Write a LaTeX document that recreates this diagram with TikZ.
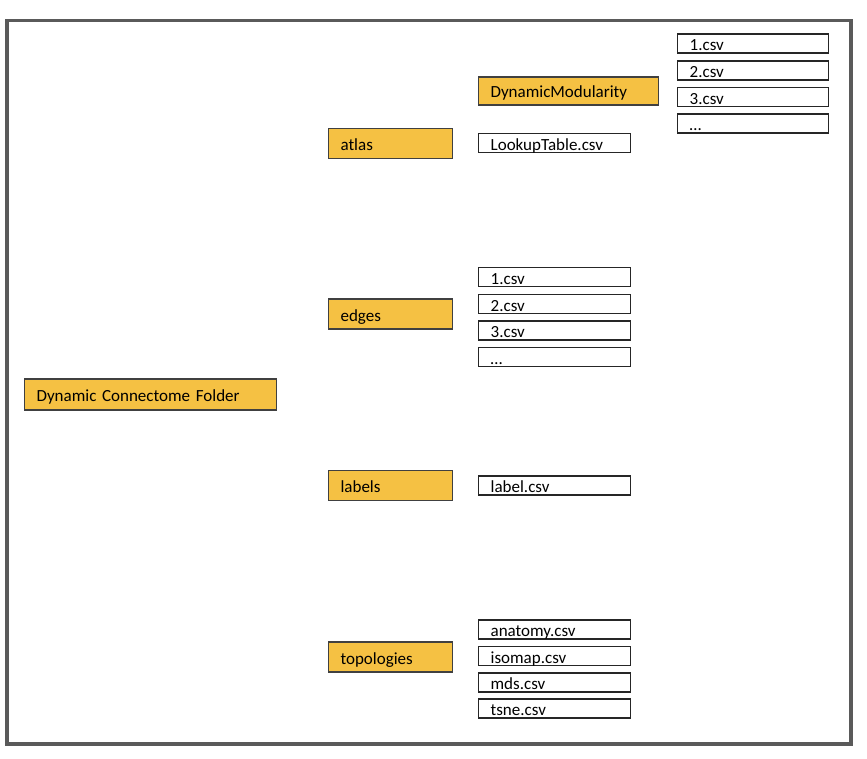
\documentclass[tikz,border=0pt]{standalone}
\usepackage{fontspec}
\setmainfont{Carlito}
\usepackage{tikz}
\usetikzlibrary{positioning}
\definecolor{folderfill}{RGB}{245,193,67}
\definecolor{framegray}{RGB}{90,90,90}
\tikzset{
  folder/.style={draw=black!75, line width=1.1pt, fill=folderfill, anchor=west, align=left, inner xsep=12pt, inner ysep=0pt, text height=14pt, text depth=0pt, minimum height=30pt, font=\fontsize{17}{19}\selectfont},
  filebox/.style={draw=black!85, line width=1.3pt, fill=white, anchor=west, align=left, inner xsep=12pt, inner ysep=0pt, text height=14.5pt, text depth=0pt, minimum height=19pt, text width=128pt, font=\fontsize{17}{19}\selectfont}
}
\begin{document}
\begin{tikzpicture}[x=1pt, y=-1pt]
  \useasboundingbox (0,0) rectangle (867,758);
  \draw[framegray, line width=3.5pt] (7,20.5) rectangle (851,744);
  \node[folder, text width=228pt, minimum height=31pt] (root) at (24,394.5) {Dynamic Connectome Folder};
  \node[folder, text width=100pt] (atlas) at (328,143.5) {atlas};
  \node[folder, text width=100pt] (edges) at (328,314) {edges};
  \node[folder, text width=100pt] (labels) at (328,485.5) {labels};
  \node[folder, text width=100pt] (topologies) at (328,657) {topologies};
  \node[folder, text width=156pt, minimum height=28pt, text height=12pt] (dynmod) at (478,91) {DynamicModularity};
  \node[filebox] (lookup) at (478,143) {LookupTable.csv};
  \foreach \y/\name/\i in {43.5/1.csv/1,70.5/2.csv/2,97/3.csv/3,123.5/\ldots/4}{\node[filebox, text width=127pt] (dm\i) at (677,\y) {\name};}
  \foreach \y/\name/\i in {277/1.csv/1,304/2.csv/2,330.5/3.csv/3,357/\ldots/4}{\node[filebox] (edge\i) at (478,\y) {\name};}
  \node[filebox] (label) at (478,485.5) {label.csv};
  \foreach \y/\name/\i in {629.5/anatomy.csv/1,656/isomap.csv/2,682.5/mds.csv/3,708.5/tsne.csv/4}{\node[filebox] (topo\i) at (478,\y) {\name};}
\end{tikzpicture}
\end{document}
